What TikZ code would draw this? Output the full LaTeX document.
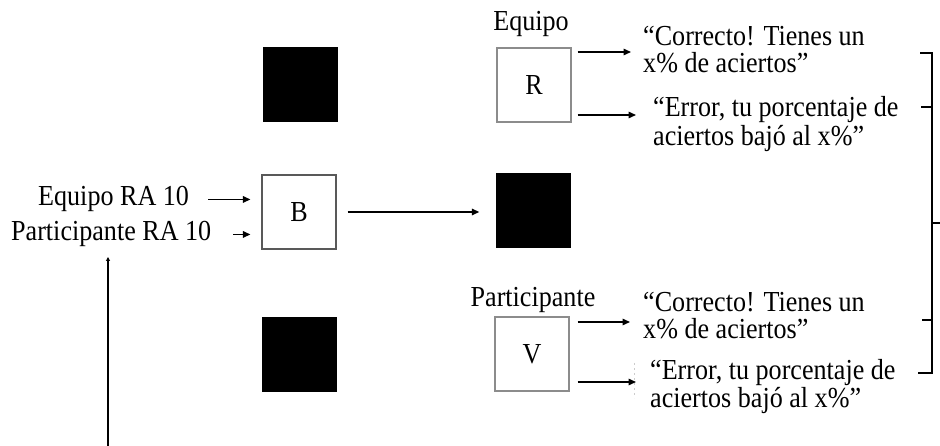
\documentclass[tikz,border=0pt]{standalone}
\usepackage{fontspec}
\setmainfont{Liberation Serif}[FakeStretch=0.9]
\usetikzlibrary{arrows.meta}
\definecolor{frameB}{gray}{0.35}
\definecolor{frameRV}{gray}{0.55}
\begin{document}
\begin{tikzpicture}[x=1pt,y=-1pt,
  txt/.style={font=\fontsize{29}{31}\selectfont, inner sep=0pt, anchor=base west},
  lbl/.style={font=\fontsize{29}{31}\selectfont, inner sep=0pt, anchor=base},
  openbox/.style={line width=1.2pt, fill=white, minimum width=74pt,
    minimum height=74pt, inner sep=0pt, font=\fontsize{29}{31}\selectfont},
  solidblock/.style={fill=black, minimum width=75pt, minimum height=75pt, inner sep=0pt},
  arr/.style={line width=1.5pt, -{Triangle[length=7.5pt,width=6.5pt]}},
  brk/.style={line width=1.8pt}]
\useasboundingbox (0,0) rectangle (940,446);

% boxes
\node[openbox, draw=frameB]  (B) at (299,212) {B};
\node[openbox, draw=frameRV] (R) at (534,85)  {R};
\node[openbox, draw=frameRV] (V) at (532,354) {V};
\node[solidblock] (k1) at (300.5,84.5) {};
\node[solidblock] (k2) at (533,211) {};
\node[solidblock] (k3) at (299,354.5) {};

% labels over the boxes
\node[lbl] (eq) at (531,31)  {Equipo};
\node[lbl] (pa) at (533,307) {Participante};

% inputs of B
\node[txt] (ein) at (38,206) {Equipo RA 10};
\node[txt] (pin) at (11,241) {Participante RA 10};
\draw[arr, shorten >=11pt] ([xshift=19pt]ein.east) -- (ein.east -| B.west);
\draw[arr, shorten >=11pt] ([xshift=22pt]pin.east) -- (pin.east -| B.west);
\draw[arr, shorten <=11pt, shorten >=16pt] (B.east) -- (B.east -| k2.west);

% feedback for the team
\node[txt] (rc1) at (643,46)  {“Correcto! Tienes un};
\node[txt] (rc2) at (643,73)  {x\% de aciertos”};
\node[txt] (re1) at (653,117) {“Error, tu porcentaje de};
\node[txt] (re2) at (653,146) {aciertos bajó al x\%”};
\coordinate (rt1) at (631,52);
\coordinate (rt2) at (636,115);
\draw[arr, shorten <=6pt] (R.east |- rt1) -- (rt1);
\draw[arr, shorten <=6pt] (R.east |- rt2) -- (rt2);

% feedback for the participant
\node[txt] (vc1) at (643,312) {“Correcto! Tienes un};
\node[txt] (vc2) at (643,339) {x\% de aciertos”};
\node[txt] (ve1) at (650,379) {“Error, tu porcentaje de};
\node[txt] (ve2) at (650,407) {aciertos bajó al x\%”};
\coordinate (vt1) at (630,322);
\coordinate (vt2) at (636,382);
\draw[arr, shorten <=8pt] (V.east |- vt1) -- (vt1);
\draw[arr, shorten <=8pt] (V.east |- vt2) -- (vt2);
\draw[gray!40, line width=0.6pt, dash pattern=on 2pt off 3pt] (634,363) -- (634,398);

% rising arrow under the inputs
\coordinate (up0) at (108,446);
\coordinate (up1) at (108,257);
\draw[line width=1.4pt, -{Triangle[length=4pt,width=4pt]}] (up0) -- (up1);

% bracket on the right
\draw[brk] (920,53) -- (932,53) -- (932,373) -- (918,373);
\draw[brk] (921,107) -- (932,107);
\draw[brk] (922,320) -- (932,320);
\draw[brk] (932,223) -- (940,223);
\end{tikzpicture}
\end{document}
